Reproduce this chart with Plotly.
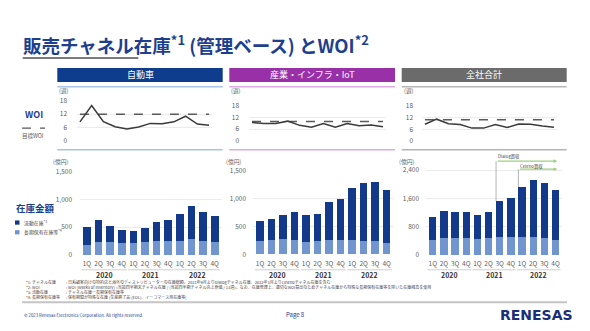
import plotly.graph_objects as go

W, H = 590, 331

# ---- data ----
quarters = ["1Q", "2Q", "3Q", "4Q"] * 3
years = ["2020", "2021", "2022"]

segments = ["自動車", "産業・インフラ・IoT", "全社合計"]

# WOI (weeks)
woi_auto = [8.6, 15.9, 8.7, 6.4, 5.4, 6.3, 7.9, 7.7, 8.6, 11.1, 7.6, 7.1]
woi_iiot = [9.5, 9.0, 9.0, 10.2, 8.0, 7.0, 9.0, 7.0, 9.0, 7.8, 8.2, 7.3]
woi_total = [8.7, 11.3, 9.0, 8.5, 6.7, 6.7, 8.5, 7.0, 8.8, 8.7, 7.8, 7.2]
woi_target = [12, 10, 11]

# inventory (100M yen): long-term holdings and current inventory
longterm_auto = [186, 227, 227, 221, 221, 233, 250, 256, 256, 279, 250, 238]
current_auto = [308, 395, 296, 232, 215, 250, 337, 378, 482, 605, 517, 471]
longterm_iiot = [238, 250, 267, 250, 221, 244, 262, 262, 256, 244, 238, 209]
current_iiot = [355, 390, 436, 506, 494, 489, 686, 732, 942, 1029, 1064, 954]
longterm_total = [430, 485, 485, 467, 440, 476, 504, 504, 504, 513, 476, 430]
current_total = [651, 770, 742, 742, 705, 733, 1025, 1108, 1419, 1621, 1566, 1420]

woi_ticks = [0, 6, 12, 18]
bar_ticks = [[0, 500, 1000, 1500], [0, 500, 1000, 1500], [0, 800, 1600, 2400]]

acquisitions = [("Dialog買収", 6), ("Celeno買収", 8)]

# ---- styling ----
FONT = "Noto Sans CJK JP, Noto Sans, sans-serif"
NAVY = "#1d3f8e"
DARK_BAR = "#12398a"
LIGHT_BAR = "#7196cf"
HEAD_COLORS = ["#0f3d8e", "#9a30a8", "#6b6b6b"]
RULE_COLORS = ["#a9c3e3", "#dcaadf", "#b5b5b5"]
TICK_COLOR = "#606060"


def X(px):
    return px / W


def Y(py):
    return 1 - py / H


def ann(text, x, y, size, color, xref="paper", yref="paper", xanchor="center",
        yanchor="middle", family=FONT, **kw):
    return dict(text=text, x=x, y=y, xref=xref, yref=yref, xanchor=xanchor,
                yanchor=yanchor, showarrow=False,
                font=dict(size=size, color=color, family=family), **kw)


fig = go.Figure()

# panel geometry (pixels)
woi_x = [(77, 212), (249, 386), (422, 557)]
woi_y = [(97.7, 139.3), (103.3, 138.9), (103.3, 139.3)]
woi_standoff = [9, 9, 8]
bar_x = [(80.0, 221.7), (253.1, 393.6), (426.1, 562.2)]
bar_y = [(170.7, 256.7), (170.0, 256.0), (150.0, 256.7)]
bar_range = [1500, 1500, 2930]
bar_standoff = [7, 6, 6]
head_x = [(57.3, 222.7), (229.3, 395.0), (401.7, 566.7)]

woi_series = [woi_auto, woi_iiot, woi_total]
long_series = [longterm_auto, longterm_iiot, longterm_total]
cur_series = [current_auto, current_iiot, current_total]

idx = list(range(12))
layout_axes = {}
for i in range(3):
    wx = "x" if i == 0 else f"x{i+1}"
    wy = "y" if i == 0 else f"y{i+1}"
    bx, by = f"x{i+4}", f"y{i+4}"

    fig.add_trace(go.Scatter(x=idx, y=[woi_target[i]] * 12, mode="lines",
                             line=dict(color="#5a5a5a", width=1.6, dash="dash"),
                             xaxis=wx, yaxis=wy, hoverinfo="skip"))
    fig.add_trace(go.Scatter(x=idx, y=woi_series[i], mode="lines",
                             line=dict(color="#3a3a3a", width=1.5),
                             xaxis=wx, yaxis=wy))
    fig.add_trace(go.Bar(x=idx, y=long_series[i], marker=dict(color=LIGHT_BAR, line_width=0),
                         xaxis=bx, yaxis=by, name="長期保有在庫等"))
    fig.add_trace(go.Bar(x=idx, y=cur_series[i], marker=dict(color=DARK_BAR, line_width=0),
                         xaxis=bx, yaxis=by, name="流動在庫"))

    wxk = "xaxis" if i == 0 else f"xaxis{i+1}"
    wyk = "yaxis" if i == 0 else f"yaxis{i+1}"
    layout_axes[wxk] = dict(domain=[X(woi_x[i][0]), X(woi_x[i][1])], range=[-0.25, 11.25],
                            anchor=wy, showticklabels=False, showgrid=False, zeroline=False)
    layout_axes[wyk] = dict(domain=[Y(woi_y[i][1]), Y(woi_y[i][0])], range=[0, 18],
                            anchor=wx, tickvals=woi_ticks, showgrid=True, gridcolor="#ebebeb",
                            gridwidth=0.8, zeroline=False, ticks="",
                            ticklabelstandoff=woi_standoff[i],
                            tickfont=dict(size=6.5, color=TICK_COLOR, family=FONT))
    layout_axes[f"xaxis{i+4}"] = dict(domain=[X(bar_x[i][0]), X(bar_x[i][1])], range=[-0.6, 11.6],
                                      anchor=by, tickvals=idx, ticktext=quarters, showgrid=False,
                                      zeroline=False, ticks="", ticklabelstandoff=4,
                                      tickfont=dict(size=6.5, color=TICK_COLOR, family=FONT))
    layout_axes[f"yaxis{i+4}"] = dict(domain=[Y(bar_y[i][1]), Y(bar_y[i][0])],
                                      range=[0, bar_range[i]], anchor=bx,
                                      tickvals=bar_ticks[i], tickformat=",", showgrid=True,
                                      gridcolor="#ebebeb", gridwidth=0.8, zeroline=False, ticks="",
                                      ticklabelstandoff=bar_standoff[i],
                                      tickfont=dict(size=6.5, color=TICK_COLOR, family=FONT))

shapes = []
annotations = []

# title and its underline
annotations.append(ann("<b>販売チャネル在庫<sup>*1</sup> (管理ベース) とWOI<sup>*2</sup></b>",
                       X(21), Y(39), 18.5, NAVY, xanchor="left"))
shapes.append(dict(type="line", xref="paper", yref="paper", x0=X(22.7), x1=X(138.3),
                   y0=Y(53.5), y1=Y(53.5), line=dict(color="#7a7a7a", width=2)))

for i in range(3):
    x0, x1 = head_x[i]
    shapes.append(dict(type="rect", xref="paper", yref="paper", x0=X(x0), x1=X(x1),
                       y0=Y(78.3), y1=Y(64), fillcolor=HEAD_COLORS[i], line_width=0))
    annotations.append(ann(segments[i], X((x0 + x1) / 2), Y(71), 9, "white"))
    for yy in (83.3, 148.3):
        shapes.append(dict(type="line", xref="paper", yref="paper", x0=X(x0), x1=X(x1),
                           y0=Y(yy), y1=Y(yy), line=dict(color=RULE_COLORS[i], width=1.5)))
    # unit labels
    annotations.append(ann("(週)", X(woi_x[i][0] - 14), Y(88), 5.6, TICK_COLOR))
    annotations.append(ann("(億円)", X(bar_x[i][0] - 19), Y(160), 5.8, TICK_COLOR))
    # fiscal year groups
    bx = f"x{i+4}"
    for g, yr in enumerate(years):
        c = g * 4 + 1.5
        shapes.append(dict(type="line", xref=bx, yref="paper", x0=c - 1.95, x1=c + 1.95,
                           y0=Y(272), y1=Y(272), line=dict(color="#cfcfcf", width=1)))
        annotations.append(ann(f"<b>{yr}</b>", c, Y(277), 7, "#333333", xref=bx))

# acquisition markers on the company-wide bars
acq_text_y = [2775, 2500]
acq_line_y = [2656, 2428]
tops = [longterm_total[k] + current_total[k] for k in idx]
for (label, k), ty, ly in zip(acquisitions, acq_text_y, acq_line_y):
    left = k - 0.33
    shapes.append(dict(type="line", xref="x6", yref="y6", x0=left, x1=left, y0=ly, y1=tops[k],
                       line=dict(color="#a0a0a0", width=0.8)))
    annotations.append(dict(xref="x6", yref="y6", x=11.15, y=ly, ax=left, ay=ly,
                            axref="x6", ayref="y6", text="", showarrow=True, arrowhead=2,
                            arrowsize=0.6, arrowwidth=1.2, arrowcolor="#9bd07f"))
    annotations.append(ann(label, left, ty, 4.3, "#444444", xref="x6", yref="y6",
                           xanchor="left"))

# left-hand labels
annotations.append(ann("<b>WOI</b>", X(34), Y(112), 9, NAVY))
shapes.append(dict(type="line", xref="paper", yref="paper", x0=X(22), x1=X(45), y0=Y(126),
                   y1=Y(126), line=dict(color="#5a5a5a", width=1.3, dash="dash")))
annotations.append(ann("目標WOI", X(33), Y(134), 5.5, "#555555"))
annotations.append(ann("<b>在庫金額</b>", X(35), Y(208), 9.5, NAVY))
for yy, col, txt in [(223.3, DARK_BAR, "流動在庫<sup>*3</sup>"), (233.3, LIGHT_BAR, "長期保有在庫等<sup>*4</sup>")]:
    shapes.append(dict(type="rect", xref="paper", yref="paper", x0=X(15), x1=X(19.5),
                       y0=Y(yy + 2.2), y1=Y(yy - 2.2), fillcolor=col, line_width=0))
    annotations.append(ann(txt, X(22), Y(yy), 4.9, "#444444", xanchor="left"))

# footnotes
notes = [
    ("*1: チャネル在庫", ": 日系顧客向けの特約店と海外のディストリビューターの在庫総額。2021年9月よりDialogチャネル在庫、2022年3月よりCelenoチャネル在庫を含む"),
    ("*2: WOI", ": WOI (Weeks of Inventory) =当該四半期末チャネル在庫 / (当該四半期チャネル売上原価 / 13週)。なお、在庫管理上、適切なWOI算出のためチャネル在庫から特殊な長期保有在庫等を除いた在庫残高を使用"),
    ("*3: 流動在庫", ": チャネル在庫ー長期保有在庫等"),
    ("*4: 長期保有在庫等", ": 保有期間が特殊な在庫 (生産終了品 (EOL)、イーコマース用在庫等)"),
]
for r, (a, b) in enumerate(notes):
    yy = 285.0 + r * 5.0
    annotations.append(ann(a, X(24), Y(yy), 4.0, "#444444", xanchor="left"))
    annotations.append(ann(b, X(64), Y(yy), 4.0, "#444444", xanchor="left"))
shapes.append(dict(type="line", xref="paper", yref="paper", x0=X(22), x1=X(567), y0=Y(305.5),
                   y1=Y(305.5), line=dict(color="#c4c4c4", width=1.8)))

# footer
annotations.append(ann("© 2023 Renesas Electronics Corporation. All rights reserved.",
                       X(22), Y(318.5), 4.3, NAVY, xanchor="left"))
annotations.append(ann("Page 8", X(295), Y(318), 6, NAVY))
annotations.append(ann("<b>RENESAS</b>", X(536), Y(318.5), 14, "#1b2f78", family="DejaVu Sans"))

fig.update_layout(
    width=W, height=H, margin=dict(l=0, r=0, t=0, b=0),
    paper_bgcolor="white", plot_bgcolor="white",
    barmode="stack", bargap=0.34, showlegend=False,
    font=dict(family=FONT),
    shapes=shapes, annotations=annotations,
    **layout_axes,
)

fig.write_html("out.html")
